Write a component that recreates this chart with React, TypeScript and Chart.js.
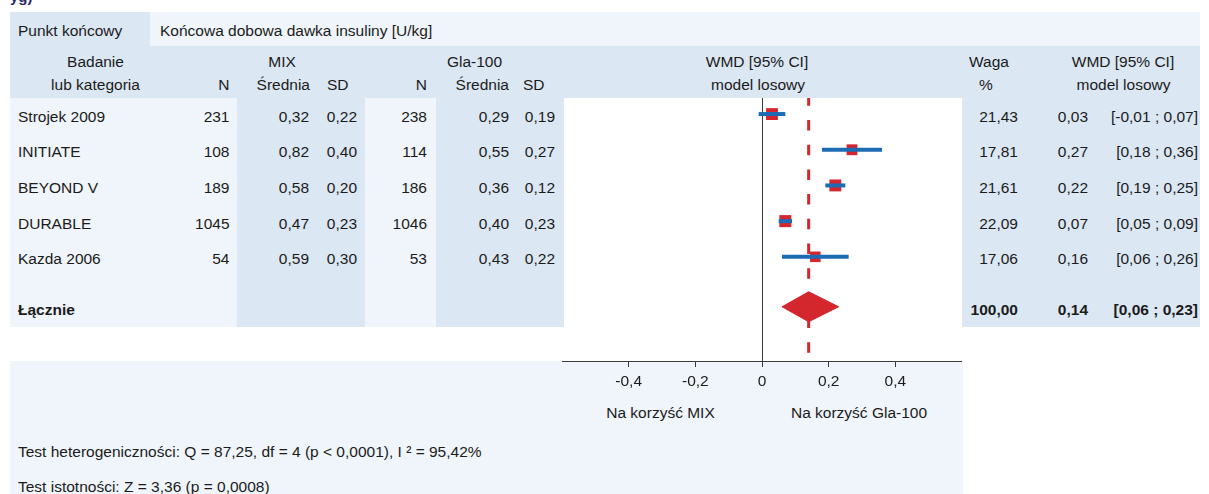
import React, { useEffect, useRef } from 'react';
import { Chart, registerables } from 'chart.js';

Chart.register(...registerables);

// ---- study data ----
const STUDIES = ['Strojek 2009', 'INITIATE', 'BEYOND V', 'DURABLE', 'Kazda 2006'];
const MIX_N = [231, 108, 189, 1045, 54];
const MIX_MEAN = [0.32, 0.82, 0.58, 0.47, 0.59];
const MIX_SD = [0.22, 0.4, 0.2, 0.23, 0.3];
const GLA_N = [238, 114, 186, 1046, 53];
const GLA_MEAN = [0.29, 0.55, 0.36, 0.4, 0.43];
const GLA_SD = [0.19, 0.27, 0.12, 0.23, 0.22];
const WEIGHTS = [21.43, 17.81, 21.61, 22.09, 17.06];
const WMD = [0.03, 0.27, 0.22, 0.07, 0.16];
const CI_LO = [-0.01, 0.18, 0.19, 0.05, 0.06];
const CI_HI = [0.07, 0.36, 0.25, 0.09, 0.26];

const POOLED_WEIGHT = 100;
const POOLED_WMD = 0.14;
const POOLED_LO = 0.06;
const POOLED_HI = 0.23;

const X_TICKS = [-0.4, -0.2, 0, 0.2, 0.4];

// ---- styling ----
const FONT = '"Liberation Sans", Arial, Helvetica, sans-serif';
const FS = 15.5;
const TEXT = '#1b1b1b';
const DARK = '#dbe7f3';
const LIGHT = '#eff5fa';
const RED = '#d3262d';
const BLUE = '#1c6cb5';
const AXIS = '#3a3a3a';

// vertical layout of the forest plot in row units (row 0 = first study)
const ROW_PX = 35.7;
const Y_MIN = -0.45;
const Y_MAX = 6.92;
const STUDY_ROWS = [0, 1, 2, 3, 4];
const POOLED_ROW = 5.4;
const DIAMOND_HALF = 15 / ROW_PX;

const rowTextY = (i: number) => 116.5 + ROW_PX * i;
const POOLED_TEXT_Y = 310;

const fmt2 = (v: number) => v.toFixed(2).replace('.', ',');
const fmtTick = (v: number) => (v === 0 ? '0' : v.toFixed(1).replace('.', ','));
const squareSide = (w: number) => 12 * Math.sqrt(w / 22);

type TxtProps = {
  x: number;
  y: number;
  text: string;
  align?: 'left' | 'right' | 'center';
  bold?: boolean;
};

function Txt({ x, y, text, align = 'left', bold = false }: TxtProps) {
  const w = 400;
  const left = align === 'left' ? x : align === 'right' ? x - w : x - w / 2;
  return (
    <div
      style={{
        position: 'absolute',
        left,
        top: y - 9,
        width: w,
        height: 18,
        lineHeight: '18px',
        fontSize: FS,
        fontFamily: FONT,
        fontWeight: bold ? 700 : 400,
        color: TEXT,
        textAlign: align,
        whiteSpace: 'nowrap',
      }}
    >
      {text}
    </div>
  );
}

function Box({ x0, x1, y0, y1, color }: { x0: number; x1: number; y0: number; y1: number; color: string }) {
  return (
    <div
      style={{ position: 'absolute', left: x0, top: y0, width: x1 - x0, height: y1 - y0, background: color }}
    />
  );
}

function ForestCanvas() {
  const ref = useRef<HTMLCanvasElement | null>(null);

  useEffect(() => {
    if (!ref.current) return;
    const datasets: any[] = [];

    // dashed line at the pooled estimate
    datasets.push({
      data: [
        { x: POOLED_WMD, y: Y_MIN },
        { x: POOLED_WMD, y: Y_MAX },
      ],
      showLine: true,
      borderColor: RED,
      borderWidth: 3,
      borderDash: [10.5, 14.2],
      borderDashOffset: 2.7,
      borderCapStyle: 'butt',
      pointRadius: 0,
      order: 5,
    });

    // study point estimates, sized by weight
    datasets.push({
      data: WMD.map((v, i) => ({ x: v, y: STUDY_ROWS[i] })),
      showLine: false,
      pointStyle: 'rect',
      pointRadius: (c: any) => squareSide(WEIGHTS[c.dataIndex]) / Math.SQRT2,
      backgroundColor: RED,
      borderWidth: 0,
      order: 4,
    });

    // pooled diamond
    datasets.push({
      data: [
        { x: POOLED_LO, y: POOLED_ROW },
        { x: POOLED_WMD, y: POOLED_ROW - DIAMOND_HALF },
        { x: POOLED_HI, y: POOLED_ROW },
        { x: POOLED_WMD, y: POOLED_ROW + DIAMOND_HALF },
        { x: POOLED_LO, y: POOLED_ROW },
      ],
      showLine: true,
      fill: 'shape',
      backgroundColor: RED,
      borderColor: RED,
      borderWidth: 1,
      pointRadius: 0,
      tension: 0,
      order: 3,
    });

    // confidence intervals
    CI_LO.forEach((lo, i) => {
      datasets.push({
        data: [
          { x: lo, y: STUDY_ROWS[i] },
          { x: CI_HI[i], y: STUDY_ROWS[i] },
        ],
        showLine: true,
        borderColor: BLUE,
        borderWidth: 4,
        borderCapStyle: 'butt',
        pointRadius: 0,
        order: 1,
      });
    });

    const chart = new Chart(ref.current, {
      type: 'scatter',
      data: { datasets },
      options: {
        animation: false,
        responsive: false,
        events: [],
        layout: { padding: 0, autoPadding: false },
        plugins: { legend: { display: false }, tooltip: { enabled: false } },
        scales: {
          x: {
            type: 'linear',
            position: 'bottom',
            min: -0.6,
            max: 0.6,
            afterBuildTicks: (s: any) => {
              s.ticks = X_TICKS.map((v) => ({ value: v }));
            },
            afterFit: (s: any) => {
              s.height = 37;
            },
            ticks: {
              callback: (v: any) => fmtTick(Number(v)),
              color: TEXT,
              font: { family: FONT, size: FS },
              padding: 5,
              maxRotation: 0,
              autoSkip: false,
            },
            grid: {
              drawOnChartArea: true,
              color: (c: any) => (c.tick && c.tick.value === 0 ? AXIS : 'rgba(0,0,0,0)'),
              tickColor: AXIS,
              tickLength: 6,
              lineWidth: 1,
            },
            border: { display: true, color: AXIS, width: 1 },
          },
          y: {
            type: 'linear',
            min: Y_MIN,
            max: Y_MAX,
            reverse: true,
            display: false,
          },
        },
      } as any,
    });

    return () => chart.destroy();
  }, []);

  return (
    <canvas
      ref={ref}
      width={400}
      height={300}
      style={{ position: 'absolute', left: 562, top: 98, width: 400, height: 300, display: 'block' }}
    />
  );
}

export default function App() {
  const L1 = 62;
  const L2 = 85;
  return (
    <div
      style={{
        position: 'absolute',
        left: 0,
        top: 0,
        width: 1209,
        height: 494,
        overflow: 'hidden',
        background: '#ffffff',
        fontFamily: FONT,
      }}
    >
      {/* heading line above the table (mostly outside the frame) */}
      <div style={{ position: 'absolute', left: 10, top: 0, width: 120, height: 7, overflow: 'hidden' }}>
        <span
          style={{
            position: 'absolute',
            left: 0,
            top: -11,
            fontSize: 15,
            lineHeight: '15px',
            fontWeight: 700,
            color: '#2b2a6e',
            fontFamily: FONT,
            whiteSpace: 'nowrap',
          }}
        >
          yg)
        </span>
      </div>

      {/* backgrounds */}
      <Box x0={10} x1={150} y0={12} y1={46} color={DARK} />
      <Box x0={150} x1={1200} y0={12} y1={46} color={LIGHT} />
      <Box x0={10} x1={1200} y0={46} y1={98} color={DARK} />
      <Box x0={10} x1={237} y0={98} y1={327} color={LIGHT} />
      <Box x0={237} x1={365} y0={98} y1={327} color={DARK} />
      <Box x0={365} x1={436} y0={98} y1={327} color={LIGHT} />
      <Box x0={436} x1={564} y0={98} y1={327} color={DARK} />
      <Box x0={962} x1={1200} y0={98} y1={327} color={DARK} />
      <Box x0={10} x1={963} y0={361} y1={494} color={LIGHT} />

      {/* endpoint row */}
      <Txt x={18} y={31} text="Punkt końcowy" />
      <Txt x={160} y={31} text="Końcowa dobowa dawka insuliny [U/kg]" />

      {/* column headers */}
      <Txt x={95.5} y={L1} text="Badanie" align="center" />
      <Txt x={95.5} y={L2} text="lub kategoria" align="center" />
      <Txt x={282} y={L1} text="MIX" align="center" />
      <Txt x={229.5} y={L2} text="N" align="right" />
      <Txt x={310} y={L2} text="Średnia" align="right" />
      <Txt x={327} y={L2} text="SD" />
      <Txt x={474.5} y={L1} text="Gla-100" align="center" />
      <Txt x={427} y={L2} text="N" align="right" />
      <Txt x={509} y={L2} text="Średnia" align="right" />
      <Txt x={523} y={L2} text="SD" />
      <Txt x={757} y={L1} text="WMD [95% CI]" align="center" />
      <Txt x={758} y={L2} text="model losowy" align="center" />
      <Txt x={989} y={L1} text="Waga" align="center" />
      <Txt x={986} y={L2} text="%" align="center" />
      <Txt x={1123} y={L1} text="WMD [95% CI]" align="center" />
      <Txt x={1123.5} y={L2} text="model losowy" align="center" />

      {/* study rows */}
      {STUDIES.map((name, i) => {
        const y = rowTextY(i);
        return (
          <React.Fragment key={name}>
            <Txt x={18} y={y} text={name} />
            <Txt x={229.5} y={y} text={String(MIX_N[i])} align="right" />
            <Txt x={309} y={y} text={fmt2(MIX_MEAN[i])} align="right" />
            <Txt x={357} y={y} text={fmt2(MIX_SD[i])} align="right" />
            <Txt x={427} y={y} text={String(GLA_N[i])} align="right" />
            <Txt x={509} y={y} text={fmt2(GLA_MEAN[i])} align="right" />
            <Txt x={555} y={y} text={fmt2(GLA_SD[i])} align="right" />
            <Txt x={1018} y={y} text={fmt2(WEIGHTS[i])} align="right" />
            <Txt x={1088} y={y} text={fmt2(WMD[i])} align="right" />
            <Txt x={1198} y={y} text={`[${fmt2(CI_LO[i])} ; ${fmt2(CI_HI[i])}]`} align="right" />
          </React.Fragment>
        );
      })}

      {/* pooled row */}
      <Txt x={18} y={POOLED_TEXT_Y} text="Łącznie" bold />
      <Txt x={1018} y={POOLED_TEXT_Y} text={fmt2(POOLED_WEIGHT)} align="right" bold />
      <Txt x={1088} y={POOLED_TEXT_Y} text={fmt2(POOLED_WMD)} align="right" bold />
      <Txt x={1198} y={POOLED_TEXT_Y} text={`[${fmt2(POOLED_LO)} ; ${fmt2(POOLED_HI)}]`} align="right" bold />

      <ForestCanvas />

      {/* direction labels */}
      <Txt x={660.5} y={413} text="Na korzyść MIX" align="center" />
      <Txt x={859} y={413} text="Na korzyść Gla-100" align="center" />

      {/* test statistics */}
      <Txt x={18} y={452} text="Test heterogeniczności: Q = 87,25, df = 4 (p < 0,0001), I ² = 95,42%" />
      <Txt x={18} y={487} text="Test istotności: Z = 3,36 (p = 0,0008)" />
    </div>
  );
}
